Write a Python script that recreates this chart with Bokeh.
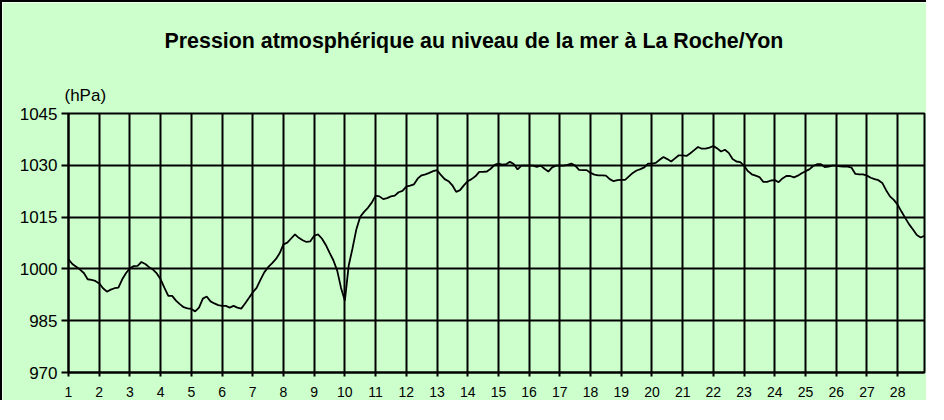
from bokeh.plotting import figure
from bokeh.models import Range1d, FixedTicker, Title
from bokeh.embed import file_html
from bokeh.resources import INLINE

# ---- data ----
title_text = "Pression atmosphérique au niveau de la mer à La Roche/Yon"
unit_text = "(hPa)"
day_ticks = list(range(1, 29))
pressure_ticks = [970, 985, 1000, 1015, 1030, 1045]
obs_per_day = 8  # one reading every 3 hours

pressure = [
    1002.8, 1001.4, 1000.6, 999.8, 998.8, 997.0, 996.8, 996.5,   # 1
    995.8, 994.4, 993.4, 994.0, 994.4, 994.6, 997.0, 998.8,      # 2
    1000.2, 1000.8, 1000.9, 1002.0, 1001.4, 1000.5, 999.8, 998.7, # 3
    997.0, 994.5, 992.2, 992.2, 990.8, 989.8, 988.9, 988.6,      # 4
    988.4, 987.7, 988.8, 991.4, 992.0, 990.6, 990.0, 989.5,      # 5
    989.3, 989.3, 988.8, 989.3, 988.8, 988.5, 990.0, 991.6,      # 6
    993.2, 994.5, 996.8, 999.0, 1000.5, 1001.6, 1002.8, 1004.5,  # 7
    1007.1, 1007.6, 1008.8, 1010.0, 1009.0, 1008.3, 1007.8, 1008.0, # 8
    1009.6, 1010.0, 1008.8, 1007.0, 1004.7, 1002.5, 999.5, 994.5,   # 9
    990.8, 1001.0, 1006.0, 1011.5, 1015.1, 1016.5, 1017.7, 1019.2,  # 10
    1021.2, 1021.0, 1020.2, 1020.5, 1021.0, 1021.2, 1022.2, 1022.6, # 11
    1023.8, 1024.1, 1024.5, 1026.2, 1027.1, 1027.4, 1027.8, 1028.3, # 12
    1028.6, 1027.2, 1026.0, 1025.4, 1024.2, 1022.3, 1022.8, 1024.2, # 13
    1025.4, 1026.0, 1026.8, 1028.1, 1028.1, 1028.2, 1029.0, 1030.1, # 14
    1030.5, 1030.2, 1030.3, 1031.0, 1030.4, 1028.8, 1029.9, 1029.9, # 15
    1029.9, 1029.9, 1029.5, 1029.9, 1029.0, 1028.2, 1029.4, 1029.9, # 16
    1029.9, 1029.9, 1030.1, 1030.5, 1029.9, 1028.7, 1028.6, 1028.6, # 17
    1027.8, 1027.3, 1027.1, 1027.1, 1027.0, 1026.0, 1025.4, 1025.7, # 18
    1025.8, 1025.8, 1026.8, 1027.8, 1028.5, 1028.9, 1029.4, 1030.5, # 19
    1030.5, 1030.7, 1031.6, 1032.4, 1031.8, 1031.1, 1032.0, 1032.9, # 20
    1032.9, 1032.7, 1033.5, 1034.4, 1035.3, 1034.8, 1034.8, 1035.1, # 21
    1035.6, 1034.9, 1034.0, 1034.5, 1033.6, 1031.8, 1031.1, 1030.9, # 22
    1029.9, 1028.3, 1027.4, 1027.0, 1026.6, 1025.2, 1025.2, 1025.6, # 23
    1025.7, 1025.1, 1026.2, 1026.9, 1026.9, 1026.5, 1027.0, 1027.7, # 24
    1028.3, 1028.8, 1029.8, 1030.3, 1030.3, 1029.5, 1029.6, 1029.9, # 25
    1029.9, 1029.7, 1029.6, 1029.6, 1029.3, 1027.5, 1027.4, 1027.4, # 26
    1027.0, 1026.4, 1026.0, 1025.7, 1024.9, 1022.8, 1021.0, 1020.0, # 27
    1018.6, 1016.6, 1014.7, 1012.9, 1011.4, 1009.8, 1009.1, 1009.6, # 28
]
time_days = [day_ticks[0] + i / obs_per_day for i in range(len(pressure))]

# ---- figure ----
BG = "#CCFFCC"
FONT = "Liberation Sans"

p = figure(width=926, height=400, output_backend="svg", toolbar_location=None,
           x_range=Range1d(time_days[0], time_days[-1]),
           y_range=Range1d(pressure_ticks[0], pressure_ticks[-1]),
           min_border_left=66, min_border_right=4, min_border_top=111, min_border_bottom=30,
           title=Title(text=title_text, align="left", offset=96, text_font=FONT,
                       text_font_size="21.4px", text_font_style="bold", text_color="black",
                       standoff=44))
p.styles = {"border-top": "2px solid black", "border-left": "2px solid black"}
p.background_fill_color = BG
p.border_fill_color = BG
p.outline_line_color = "black"
p.outline_line_width = 2

p.add_layout(Title(text=unit_text, align="left", offset=-4, text_font=FONT,
                   text_font_size="17px", text_font_style="normal", text_color="black",
                   standoff=18), "above")

p.xaxis.ticker = FixedTicker(ticks=day_ticks)
p.yaxis.ticker = FixedTicker(ticks=pressure_ticks)
p.xgrid.ticker = FixedTicker(ticks=day_ticks)
p.ygrid.ticker = FixedTicker(ticks=pressure_ticks)
for g in (p.xgrid, p.ygrid):
    g.grid_line_color = "black"
    g.grid_line_width = 2
    g.grid_line_alpha = 1

for ax in (p.xaxis, p.yaxis):
    ax.axis_line_color = "black"
    ax.axis_line_width = 2
    ax.major_tick_line_color = "black"
    ax.major_tick_line_width = 2
    ax.minor_tick_line_color = None
    ax.major_tick_in = 0
    ax.major_label_text_color = "black"
    ax.major_label_text_font = FONT

p.xaxis.major_tick_out = 4
p.xaxis.major_label_standoff = 10
p.xaxis.major_label_text_font_size = "14px"
p.yaxis.major_tick_out = 7
p.yaxis.major_label_standoff = 4
p.yaxis.major_label_text_font_size = "17px"

p.line(time_days, pressure, line_color="black", line_width=1.8)

open("out.html", "w").write(file_html(p, INLINE))
